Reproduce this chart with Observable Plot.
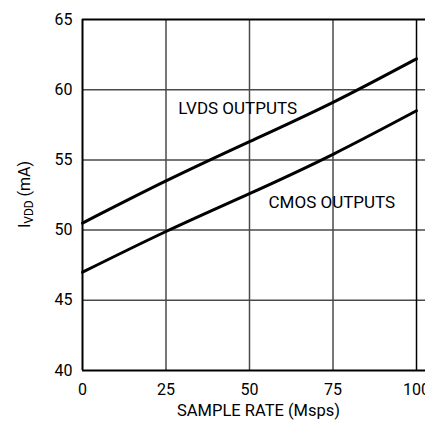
<!DOCTYPE html>
<html>
<head>
<meta charset="utf-8">
<script src="https://cdn.jsdelivr.net/npm/d3@7"></script>
<script src="https://cdn.jsdelivr.net/npm/@observablehq/plot@0.6"></script>
<style>
  html, body { margin: 0; padding: 0; background: #fff; overflow: hidden; }
  #chart svg { display: block; font-family: "Roboto", "Liberation Sans", sans-serif; }
</style>
</head>
<body>
<div id="chart"></div>
<script>
// Data
const sampleRate = [0, 25, 50, 75, 100];            // Msps
const lvdsCurrent = [50.5, 53.5, 56.3, 59.1, 62.2];  // mA
const cmosCurrent = [47.0, 49.9, 52.6, 55.4, 58.5];  // mA
const xTicks = [0, 25, 50, 75, 100];
const yTicks = [40, 45, 50, 55, 60, 65];
const seriesNames = ["LVDS OUTPUTS", "CMOS OUTPUTS"];
const labelAt = [{x: 28.7, y: 58.3}, {x: 55.7, y: 51.6}];
const xLabel = "SAMPLE RATE (Msps)";
const xLabelAt = 52.7;

const rows = [];
sampleRate.forEach((s, i) => {
  rows.push({series: seriesNames[0], x: s, y: lvdsCurrent[i]});
  rows.push({series: seriesNames[1], x: s, y: cmosCurrent[i]});
});
const labels = seriesNames.map((n, i) => ({name: n, x: labelAt[i].x, y: labelAt[i].y}));

const chart = Plot.plot({
  width: 425,
  height: 421,
  marginLeft: 82,
  marginRight: 0,
  marginTop: 19,
  marginBottom: 51,
  style: {fontSize: "16px", background: "#fff", color: "#000"},
  x: {domain: [0, 102.69], ticks: xTicks, tickSize: 0, tickPadding: 12, label: null},
  y: {domain: [40, 65], ticks: yTicks, tickSize: 0, tickPadding: 10, label: null},
  marks: [
    Plot.ruleY(yTicks.filter(v => v !== 40 && v !== 65), {stroke: "#4a4a4a", strokeWidth: 1.5}),
    Plot.ruleX(xTicks.filter(v => v !== 0 && v !== 100), {stroke: "#4a4a4a", strokeWidth: 1.5}),
    Plot.ruleX([100], {stroke: "#000", strokeWidth: 1.5}),
    Plot.ruleY([65], {stroke: "#000", strokeWidth: 2}),
    Plot.ruleY([40], {stroke: "#000", strokeWidth: 2}),
    Plot.ruleX([0], {stroke: "#000", strokeWidth: 2}),
    Plot.line(rows, {x: "x", y: "y", z: "series", stroke: "#000", strokeWidth: 3, curve: "natural"}),
    Plot.text(labels, {x: "x", y: "y", text: "name", textAnchor: "start", lineAnchor: "bottom", fontSize: 17, fill: "#000"}),
    Plot.axisX({ticks: xTicks, tickSize: 0, tickPadding: 13, fontSize: 16}),
    Plot.axisY({ticks: yTicks, tickSize: 0, tickPadding: 10, fontSize: 16}),
    Plot.text([xLabel], {x: () => xLabelAt, frameAnchor: "bottom", dy: 45, fontSize: 16.5, fill: "#000"})
  ]
});
document.getElementById("chart").appendChild(chart);

// y-axis label with subscript
const svg = d3.select(chart);
const yl = svg.append("text")
  .attr("transform", `translate(30, ${(19 + 370) / 2}) rotate(-90)`)
  .attr("text-anchor", "middle")
  .attr("font-size", 16)
  .attr("fill", "#000");
yl.append("tspan").text("I");
yl.append("tspan").attr("font-size", 12).attr("dy", 3).text("VDD");
yl.append("tspan").attr("dy", -3).text(" (mA)");
</script>
</body>
</html>
